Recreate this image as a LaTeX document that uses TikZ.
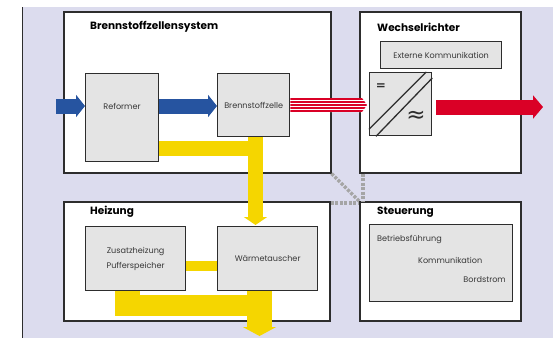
\documentclass[tikz,border=0pt]{standalone}
\usepackage{fontspec}
\setmainfont{Poppins}
\newfontfamily\symfont{DejaVu Sans}
\usetikzlibrary{arrows.meta,calc}
\definecolor{panel}{RGB}{220,220,238}
\definecolor{edge}{RGB}{45,45,45}
\definecolor{boxgray}{RGB}{228,228,228}
\definecolor{txt}{RGB}{55,55,55}
\definecolor{heat}{RGB}{245,214,0}
\definecolor{gas}{RGB}{38,84,160}
\definecolor{power}{RGB}{218,0,38}
\definecolor{linkgray}{RGB}{165,165,165}
\pgfdeclarelayer{back}
\pgfdeclarelayer{mid}
\pgfsetlayers{back,mid,main}
\begin{document}
\begin{tikzpicture}[x=1pt,y=-1pt,
  outerbox/.style={draw=edge, line width=1.5pt, fill=white, anchor=north west, inner sep=0pt},
  innerbox/.style={draw=edge, line width=1.3pt, fill=boxgray, anchor=north west, inner sep=0pt,
    font=\fontsize{8.1}{15}\selectfont, text=txt, align=center},
  title/.style={anchor=west, font=\bfseries\fontsize{10.5}{12}\selectfont, inner sep=0pt},
  lbl/.style={font=\fontsize{8.1}{9}\selectfont, text=txt, inner sep=0pt},
  sym/.style={inner sep=0pt, text=edge},
  link/.style={draw=linkgray, line width=3.5pt, dash pattern=on 3pt off 1.5pt},
  gasflow/.style={draw=gas, line width=15pt, -{Triangle[length=9pt,width=22pt]}},
  powerflow/.style={draw=power, line width=15pt, -{Triangle[length=10pt,width=23pt]}},
  heatflow/.style={draw=heat}]
\useasboundingbox (0,0) rectangle (553,338);

% panel behind everything
\begin{pgfonlayer}{back}
  \fill[panel] (22,7) rectangle (553,338);
  \draw[edge, line width=0.8pt] (22,7) -- (22,338);
  % system groups
  \node[outerbox, minimum width=267pt, minimum height=161pt] (bzs) at (63,11) {};
  \node[outerbox, minimum width=161pt, minimum height=161pt] (wr)  at (359,11) {};
  \node[outerbox, minimum width=266pt, minimum height=119pt] (hz)  at (63,201) {};
  \node[outerbox, minimum width=161pt, minimum height=119pt] (st)  at (359,201) {};
\end{pgfonlayer}

% group titles
\node[title] (tbzs) at (90,27) {Brennstoffzellensystem};
\node[title] (twr)  at (377,27) {Wechselrichter};
\node[title] (thz)  at (90,212) {Heizung};
\node[title] (tst)  at (377,212) {Steuerung};

% components
\node[innerbox, minimum width=73pt, minimum height=88pt] (reformer) at (85,73) {};
\node[lbl] (reflbl) at (122,106) {Reformer};
\node[innerbox, minimum width=72pt, minimum height=63pt] (bzelle) at (217,73) {Brennstoffzelle};
\node[innerbox, minimum width=121pt, minimum height=27pt] (extkom) at (380,41) {Externe Kommunikation};
\node[innerbox, minimum width=62pt, minimum height=63pt] (dcac) at (369,72) {};
\node[innerbox, minimum width=100pt, minimum height=64pt] (zusatz) at (85,226) {Zusatzheizung\\Pufferspeicher};
\node[innerbox, minimum width=100pt, minimum height=64pt] (waerme) at (217,226) {Wärmetauscher};
\node[innerbox, minimum width=143pt, minimum height=77pt] (stinner) at (369,224) {};
\node[lbl, anchor=west] (betrieb) at (377,239) {Betriebsführung};
\node[lbl, anchor=west] (komm) at (418,260) {Kommunikation};
\node[lbl, anchor=east] (bord) at (506,280) {Bordstrom};

% inverter symbol
\draw[edge, line width=1.3pt] ($(dcac.south west)+(0,-7)$) -- ($(dcac.north east)+(-6,0)$);
\draw[edge, line width=1.3pt] ($(dcac.south west)+(7,0)$) -- ($(dcac.north east)+(0,6)$);
\node[sym, font=\symfont\bfseries\fontsize{12}{12}\selectfont] (dcsym) at (381,87) {=};
\node[sym, font=\symfont\fontsize{23}{23}\selectfont] (acsym) at (416,117) {≈};

% flows, drawn under the components
\begin{pgfonlayer}{mid}
  % hydrogen / gas path
  \coordinate (gasin) at (56,106);
  \draw[gasflow] (gasin) -- (reformer.west |- gasin);
  \draw[gasflow] (reformer.east |- gasin) -- (bzelle.west |- gasin);

  % DC output of the fuel cell
  \begin{scope}
    \path[clip] (bzelle.east |- 0,98) -- (362,98) -- (367,105) -- (362,112)
      -- (bzelle.east |- 0,112) -- cycle;
    \fill[white] (280,90) rectangle (370,120);
    \foreach \yy in {98.9,102,105,108,111.1}
      \draw[power, line width=1.5pt] (280,\yy) -- (370,\yy);
  \end{scope}

  % AC output
  \coordinate (acout) at (543,107);
  \draw[powerflow] ($(dcac.east |- acout)+(4,0)$) -- (acout);

  % heat from reformer and fuel cell
  \coordinate (tap) at (255.5,0);
  \coordinate (hb) at (0,148.5);
  \draw[heatflow, line width=15pt, line cap=rect] (reformer.east |- hb) -- (tap |- hb);
  \draw[heatflow, line width=15pt, -{Triangle[length=8pt,width=23pt]}]
    (tap |- bzelle.south) -- ($(tap |- waerme.north)+(0,-1)$);

  % storage <-> heat exchanger
  \coordinate (mb) at (0,266);
  \draw[heatflow, line width=10pt] (zusatz.east |- mb) -- (waerme.west |- mb);

  % heat output
  \coordinate (zstem) at (127.5,0);
  \coordinate (wstem) at (259.5,0);
  \coordinate (lb) at (0,305.5);
  \draw[heatflow, line width=25pt] (zstem |- zusatz.south) -- (zstem |- 0,316);
  \draw[heatflow, line width=21pt] ($(zstem |- lb)+(-12.5,0)$) -- ($(wstem |- lb)+(12.5,0)$);
  \draw[heatflow, line width=25pt, -{Triangle[length=9pt,width=33pt]}]
    (wstem |- waerme.south) -- (wstem |- 0,336);

  % control links
  \draw[link] (bzs.south east) -- (st.north west);
  \draw[link] (wr.south west -| 363,0) -- (st.north west -| 363,0);
  \draw[link] (hz.east |- 0,203) -- (st.west |- 0,203);
\end{pgfonlayer}
\end{tikzpicture}
\end{document}
